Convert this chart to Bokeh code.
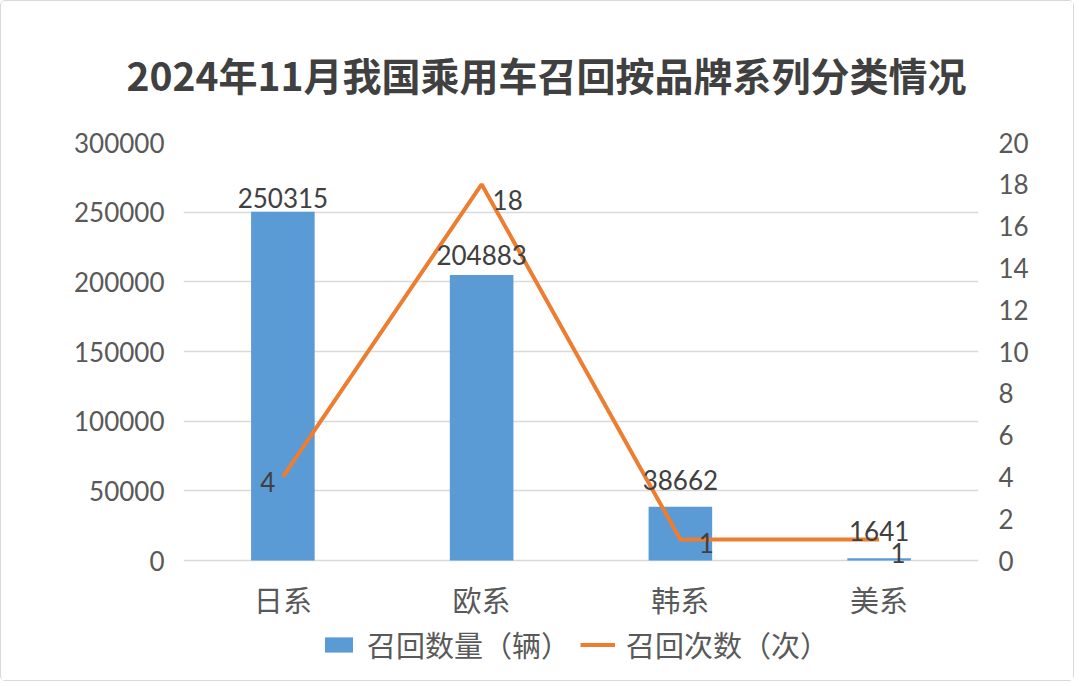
from bokeh.plotting import figure
from bokeh.models import (ColumnDataSource, LinearAxis, Range1d, FactorRange, Legend,
                          LegendItem, FixedTicker, BasicTickFormatter)
from bokeh.embed import file_html
from bokeh.resources import INLINE
from bokeh.core.properties import value

# ---------------- data ----------------
title_text = "2024年11月我国乘用车召回按品牌系列分类情况"
categories = ["日系", "欧系", "韩系", "美系"]
recall_volume = [250315, 204883, 38662, 1641]      # 召回数量（辆）
recall_times = [4, 18, 1, 1]                        # 召回次数（次）
series_names = ["召回数量（辆）", "召回次数（次）"]
left_ticks = [0, 50000, 100000, 150000, 200000, 250000, 300000]
right_ticks = [0, 2, 4, 6, 8, 10, 12, 14, 16, 18, 20]

# ---------------- styles / layout (pixels) ----------------
BAR_COLOR = "#5B9BD5"
LINE_COLOR = "#ED7D31"
TICK_COLOR = "#595959"
LABEL_COLOR = "#404040"
GRID_COLOR = "#D9D9D9"
CJK = "Noto Sans CJK SC"
NUM = "Lato"

W, H = 1072, 679
FRAME_LEFT, FRAME_TOP, FRAME_W = 182, 141, 795
AXIS_PX = 418              # pixel height of the value axes (0 .. max)
FRAME_H = H - FRAME_TOP    # frame runs to the bottom so the legend fits inside it
below_px = FRAME_H - AXIS_PX

# label offsets (pixels, label centre relative to its data point)
bar_label_dy = [-14, -20, -27, -27]
line_label_dx = [-15, 26, 26, 19]
line_label_dy = [5, 16, 3, 13]

left_max = left_ticks[-1]
right_max = right_ticks[-1]
p = figure(frame_width=FRAME_W, frame_height=FRAME_H, x_range=FactorRange(*categories),
           y_range=Range1d(-left_max * below_px / AXIS_PX, left_max),
           output_backend="svg", toolbar_location=None,
           min_border_left=FRAME_LEFT, min_border_right=W - FRAME_LEFT - FRAME_W,
           min_border_top=FRAME_TOP, min_border_bottom=0)
p.extra_y_ranges = {"times": Range1d(-right_max * below_px / AXIS_PX, right_max)}
p.styles = {"border": "1px solid #D9D9D9", "border-radius": "5px"}

p.outline_line_color = None
p.background_fill_color = "white"
p.border_fill_color = "white"

# title
p.title.text = title_text
p.title.align = "left"
p.title.offset = 125 - FRAME_LEFT
p.title.text_font = CJK
p.title.text_font_style = "bold"
p.title.text_font_size = "39px"
p.title.text_color = LABEL_COLOR
p.title.standoff = 82

bar_src = ColumnDataSource(dict(cat=categories, v=recall_volume,
                                lbl=[str(v) for v in recall_volume],
                                dy=bar_label_dy, zero=[0] * len(categories)))
line_src = ColumnDataSource(dict(cat=categories, v=recall_times,
                                 lbl=[str(v) for v in recall_times],
                                 dx=line_label_dx, dy=line_label_dy))

bars = p.vbar(x="cat", top="v", width=0.32, source=bar_src,
              fill_color=BAR_COLOR, line_color=None)
line = p.line(x="cat", y="v", source=line_src, line_color=LINE_COLOR,
              line_width=4, y_range_name="times")

p.text(x="cat", y="v", text="lbl", source=bar_src, y_offset="dy",
       text_align="center", text_baseline="middle",
       text_font=value(NUM), text_font_size="26px", text_color=LABEL_COLOR)
p.text(x="cat", y="v", text="lbl", source=line_src, x_offset="dx", y_offset="dy",
       text_align="center", text_baseline="middle", y_range_name="times",
       text_font=value(NUM), text_font_size="26px", text_color=LABEL_COLOR)

# category labels under the zero line
p.text(x="cat", y="zero", text="cat", source=bar_src, y_offset=38,
       text_align="center", text_baseline="middle",
       text_font=value(CJK), text_font_size="29px", text_color=TICK_COLOR)

# axes
p.xaxis.visible = False
p.yaxis.ticker = FixedTicker(ticks=left_ticks)
p.yaxis.formatter = BasicTickFormatter(use_scientific=False)
for ax in [p.yaxis[0]]:
    ax.axis_line_color = None
    ax.major_tick_line_color = None
    ax.minor_tick_line_color = None
    ax.major_label_text_font = NUM
    ax.major_label_text_font_size = "26px"
    ax.major_label_text_color = TICK_COLOR
    ax.major_label_standoff = 13

raxis = LinearAxis(y_range_name="times", ticker=FixedTicker(ticks=right_ticks))
raxis.axis_line_color = None
raxis.major_tick_line_color = None
raxis.minor_tick_line_color = None
raxis.major_label_text_font = NUM
raxis.major_label_text_font_size = "26px"
raxis.major_label_text_color = TICK_COLOR
raxis.major_label_standoff = 14
p.add_layout(raxis, "right")

p.xgrid.grid_line_color = None
p.ygrid.grid_line_color = GRID_COLOR
p.ygrid.grid_line_width = 1.5

legend = Legend(items=[LegendItem(label=series_names[0], renderers=[bars]),
                       LegendItem(label=series_names[1], renderers=[line])],
                orientation="horizontal", location=(138, 15),
                label_text_font=CJK, label_text_font_size="29px",
                label_text_color=TICK_COLOR, glyph_width=35, glyph_height=19,
                label_standoff=11, spacing=10, padding=4, margin=0,
                border_line_color=None, background_fill_alpha=0)
p.add_layout(legend, "center")

open("out.html", "w").write(file_html(p, INLINE))
